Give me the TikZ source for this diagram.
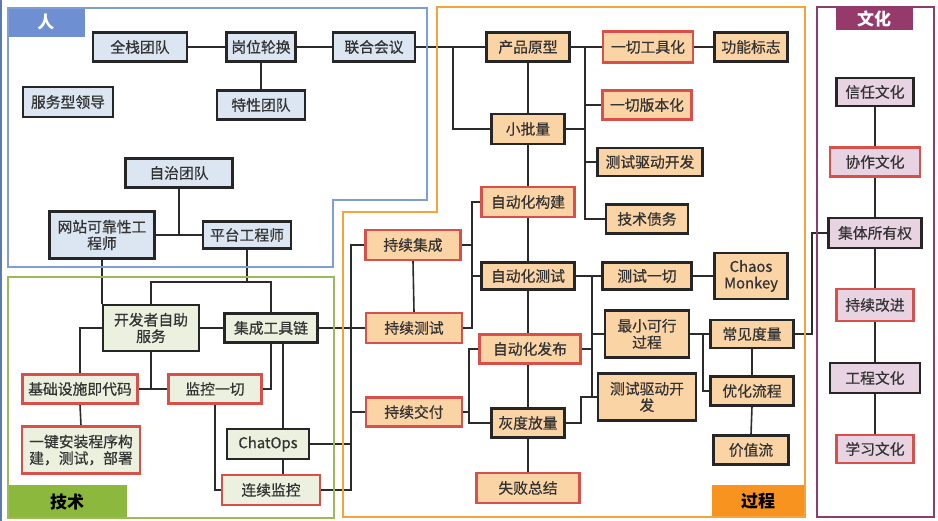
\documentclass[tikz,border=0pt]{standalone}
\usepackage{fontspec}
\usetikzlibrary{backgrounds}
\newfontfamily\cjk{Noto Sans CJK SC}
\newfontfamily\cjkm[FakeBold=0.6]{Noto Sans CJK SC}
\definecolor{blueline}{HTML}{7F9FD4}
\definecolor{bluetab}{HTML}{6F8FD3}
\definecolor{greenline}{HTML}{9BBB59}
\definecolor{greentab}{HTML}{8DB83E}
\definecolor{orangeline}{HTML}{F3A43A}
\definecolor{orangetab}{HTML}{F7931E}
\definecolor{purpleline}{HTML}{8E3B6F}
\definecolor{purpletab}{HTML}{953A6B}
\definecolor{bfill}{HTML}{DCE6F2}
\definecolor{gfill}{HTML}{EBF1DE}
\definecolor{ofill}{HTML}{FBD4A6}
\definecolor{pfill}{HTML}{E8D3E2}
\definecolor{redb}{HTML}{D9504A}
\definecolor{darkb}{HTML}{262626}
\definecolor{wire}{HTML}{2B2B2B}
\definecolor{edgeblue}{HTML}{5B7BB0}
\definecolor{txt}{HTML}{333333}
\pgfdeclarelayer{bottom}
\pgfsetlayers{bottom,background,main}
\begin{document}
\begin{tikzpicture}[x=1pt,y=-1pt,
  box/.style={draw=darkb, line width=2.3pt, inner sep=0pt, align=center, text=txt,
    font=\cjkm\fontsize{14.8}{16.5}\selectfont},
  redbox/.style={box, draw=redb, line width=2.1pt},
  pb/.style={fill=bfill}, gb/.style={fill=gfill},
  ob/.style={fill=ofill}, cb/.style={fill=pfill},
  conn/.style={draw=wire, line width=1.6pt},
  region/.style={line width=1.6pt},
  tabtext/.style={font=\cjk\bfseries\fontsize{17}{19}\selectfont, inner sep=0pt}]
\useasboundingbox (0,0) rectangle (938,521);
\begin{pgfonlayer}{bottom}
\fill[white] (0,0) rectangle (938,521);
\end{pgfonlayer}
\draw[edgeblue, line width=1.5pt] (1,0) -- (1,521);

% regions
\fill[bluetab] (8,8) rectangle (85,37);
\draw[blueline, region] (8,8) -- (427,8) -- (427,200) -- (333,200) -- (333,267) -- (8,267) -- cycle;
\node[tabtext, text=white] (tren) at (46,22) {人};

\fill[greentab] (8,485) rectangle (127,518);
\draw[greenline, region] (8,277) rectangle (334,518);
\node[tabtext] (tjs) at (67,502) {技术};

\fill[orangetab] (712,485) rectangle (805,517);
\draw[orangeline, region] (437,7) -- (805,7) -- (805,517) -- (343,517) -- (343,212) -- (437,212) -- cycle;
\node[tabtext] (tgc) at (758,501) {过程};

\fill[purpletab] (836,7) rectangle (913,30);
\draw[purpleline, region] (817,7) rectangle (934,517);
\node[tabtext, text=white] (twh) at (874,19) {文化};

% coordinates for buses
\coordinate (j1) at (247,282);
\coordinate (j2) at (453,47);
\coordinate (bx) at (351,245);
\coordinate (c472) at (472,0);
\coordinate (c469) at (469,0);
\coordinate (c585) at (585,47);
\coordinate (c592) at (592,276);
\coordinate (c581) at (581,0);
\coordinate (c703) at (703,334);
\coordinate (c812) at (812,334);

% people
\node[box,pb,minimum width=94pt,minimum height=29pt] (p1) at (140,47) {全栈团队};
\node[box,pb,minimum width=69pt,minimum height=29pt] (p2) at (261,47) {岗位轮换};
\node[box,pb,minimum width=82pt,minimum height=29pt] (p3) at (374,47) {联合会议};
\node[box,pb,minimum width=90pt,minimum height=30pt] (p4) at (68,102) {服务型领导};
\node[box,pb,minimum width=88pt,minimum height=29pt] (p5) at (261,105) {特性团队};
\node[box,pb,minimum width=107pt,minimum height=29pt] (p6) at (179,173) {自治团队};
\node[box,pb,minimum width=105pt,minimum height=47pt] (p7) at (102,235) {网站可靠性工\\程师};
\node[box,pb,minimum width=88pt,minimum height=27pt] (p8) at (247,235) {平台工程师};

% tech
\node[box,gb,minimum width=96pt,minimum height=46pt] (t1) at (151,328) {开发者自助\\服务};
\node[box,gb,minimum width=93pt,minimum height=29pt] (t2) at (271,328) {集成工具链};
\node[redbox,gb,minimum width=115pt,minimum height=29pt] (t3) at (80,389) {基础设施即代码};
\node[redbox,gb,minimum width=93pt,minimum height=29pt] (t4) at (215,389) {监控一切};
\node[redbox,gb,minimum width=118pt,minimum height=47pt] (t5) at (81,450) {一键安装程序构\\建，测试，部署};
\node[box,gb,minimum width=82pt,minimum height=30pt] (t6) at (268,444) {ChatOps};
\node[redbox,gb,minimum width=98pt,minimum height=30pt] (t7) at (271,490) {连续监控};

% process
\node[box,ob,minimum width=83pt,minimum height=29pt] (g1) at (528,47) {产品原型};
\node[redbox,ob,minimum width=90pt,minimum height=31pt] (g2) at (648,47) {一切工具化};
\node[box,ob,minimum width=73pt,minimum height=29pt] (g3) at (751,47) {功能标志};
\node[redbox,ob,minimum width=89pt,minimum height=29pt] (g4) at (647,105) {一切版本化};
\node[box,ob,minimum width=73pt,minimum height=30pt] (g5) at (528,129) {小批量};
\node[box,ob,minimum width=105pt,minimum height=28pt] (g6) at (650,162) {测试驱动开发};
\node[box,ob,minimum width=82pt,minimum height=29pt] (g7) at (647,219) {技术债务};
\node[redbox,ob,minimum width=93pt,minimum height=30pt] (g8) at (528,202) {自动化构建};
\node[redbox,ob,minimum width=95pt,minimum height=30pt] (g9) at (413,245) {持续集成};
\node[box,ob,minimum width=93pt,minimum height=27pt] (g10) at (528,276) {自动化测试};
\node[box,ob,minimum width=89pt,minimum height=27pt] (g11) at (647,276) {测试一切};
\node[box,ob,minimum width=73pt,minimum height=46pt] (g12) at (751,276) {Chaos\\Monkey};
\node[redbox,ob,minimum width=96pt,minimum height=30pt] (g13) at (414,328) {持续测试};
\node[box,ob,minimum width=84pt,minimum height=47pt] (g14) at (647,334) {最小可行\\过程};
\node[box,ob,minimum width=83pt,minimum height=28pt] (g15) at (752,334) {常见度量};
\node[redbox,ob,minimum width=101pt,minimum height=29pt] (g16) at (530,349) {自动化发布};
\node[box,ob,minimum width=98pt,minimum height=47pt] (g17) at (647,397) {测试驱动开\\发};
\node[box,ob,minimum width=83pt,minimum height=29pt] (g18) at (752,391) {优化流程};
\node[redbox,ob,minimum width=96pt,minimum height=29pt] (g19) at (414,412) {持续交付};
\node[box,ob,minimum width=73pt,minimum height=29pt] (g20) at (528,423) {灰度放量};
\node[box,ob,minimum width=75pt,minimum height=29pt] (g21) at (751,450) {价值流};
\node[redbox,ob,minimum width=103pt,minimum height=30pt] (g22) at (528,488) {失败总结};

% culture
\node[box,cb,minimum width=77pt,minimum height=28pt] (c1) at (875,92) {信任文化};
\node[redbox,cb,minimum width=90pt,minimum height=29pt] (c2) at (875,162) {协作文化};
\node[box,cb,minimum width=93pt,minimum height=30pt] (c3) at (875,233) {集体所有权};
\node[redbox,cb,minimum width=77pt,minimum height=32pt] (c4) at (875,305) {持续改进};
\node[box,cb,minimum width=90pt,minimum height=30pt] (c5) at (875,378) {工程文化};
\node[redbox,cb,minimum width=77pt,minimum height=28pt] (c6) at (875,449) {学习文化};

% connectors (behind nodes)
\begin{pgfonlayer}{background}
% people
\draw[conn] (p1.east) -- (p2.west);
\draw[conn] (p2.east) -- (p3.west);
\draw[conn] (p2.south) -- (p5.north);
\draw[conn] (p7.east) -- (p8.west);
\draw[conn] (p6.south) -- (p6.south |- p8.west);
\draw[conn] (p7.south) -- (p7.south |- t1.north);
\draw[conn] (p8.south) -- (j1);
\draw[conn] (t1.north) -- (t1.north |- j1) -| (t2.north);
% tech
\draw[conn] (t1.east) -- (t2.west);
\draw[conn] (t1.west) -| (t3.north);
\draw[conn] (t3.east) -- (t4.west);
\draw[conn] (t1.south) -- (t1.south |- t3.east);
\draw[conn] (t2.south) |- (t4.east);
\draw[conn] ([xshift=12pt]t2.south) -- ([xshift=12pt]t2.south |- t6.north);
\draw[conn] ([xshift=15pt]t6.south) -- ([xshift=15pt]t6.south |- t7.north);
\draw[conn] (t4.south) |- (t7.west);
\draw[conn] (t3.south) -- (t5.north);
% bus between tech and process
\draw[conn] (g9.west) -- (g9.west -| bx) -- (bx |- t7.east) -- (t7.east);
\draw[conn] (t2.east) -- (g13.west);
\draw[conn] (t6.east) -- (t6.east -| bx);
\draw[conn] (g19.west) -- (g19.west -| bx);
% people -> process
\draw[conn] (p3.east) -- (g1.west);
\draw[conn] (j2) |- (g5.west);
% process
\draw[conn] (g1.east) -- (g2.west);
\draw[conn] (g2.east) -- (g3.west);
\draw[conn] (c585) |- (g7.west);
\draw[conn] (g4.west) -- (g4.west -| c585);
\draw[conn] (g6.west) -- (g6.west -| c585);
\draw[conn] (g5.east) -- (g5.east -| c585);
\draw[conn] (g1.south) -- (g5.north);
\draw[conn] (g5.south) -- (g8.north);
\draw[conn] (g8.south) -- (g10.north);
\draw[conn] (g10.south) -- (g10.south |- g16.north);
\draw[conn] (g20.north |- g16.south) -- (g20.north);
\draw[conn] (g20.south) -- (g22.north);
\draw[conn] (g8.west) -- (g8.west -| c472) -- (c472 |- g13.east) -- (g13.east);
\draw[conn] (g9.east) -- (g9.east -| c472);
\draw[conn] (g10.west) -- (g10.west -| c472);
\draw[conn] (g9.south) -- (g13.north);
\draw[conn] (g16.west) -- (g16.west -| c469) -- (c469 |- g20.west) -- (g20.west);
\draw[conn] (g19.east) -- (g19.east -| c469);
\draw[conn] (g10.east) -- (g11.west);
\draw[conn] (c592) |- (g17.west);
\draw[conn] (g14.west) -- (g14.west -| c592);
\draw[conn] (g16.east) -- (g16.east -| c592);
\draw[conn] (g20.east) -- (g20.east -| c581) |- (g17.west);
\draw[conn] (g11.east) -- (g12.west);
\draw[conn] (g14.east) -- (g15.west);
\draw[conn] (c703) |- (g18.west);
\draw[conn] (g15.south) -- (g18.north);
\draw[conn] (g18.south) -- (g21.north);
\draw[conn] (g15.east) -- (c812) |- (c3.west);
% culture
\draw[conn] (c1.south) -- (c2.north);
\draw[conn] (c2.south) -- (c3.north);
\draw[conn] (c3.south) -- (c4.north);
\draw[conn] (c4.south) -- (c5.north);
\draw[conn] (c5.south) -- (c6.north);
\end{pgfonlayer}
\end{tikzpicture}
\end{document}
